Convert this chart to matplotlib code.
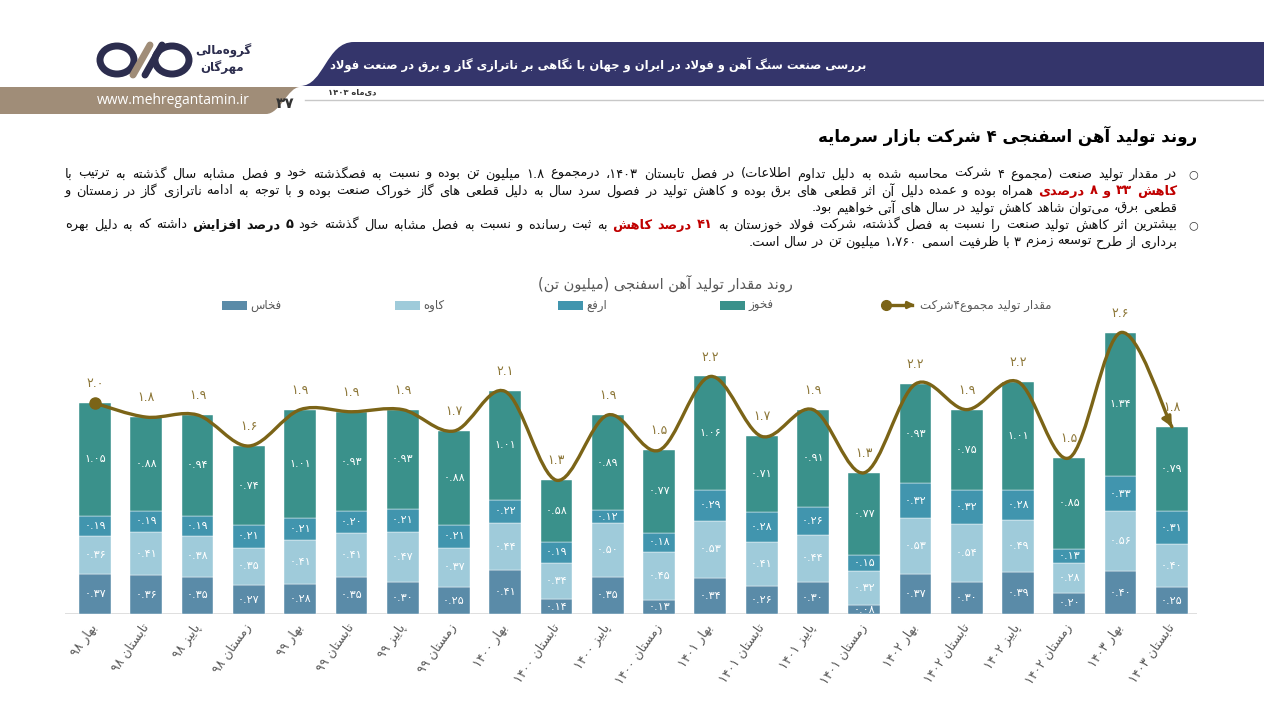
import re
import numpy as np
import matplotlib
matplotlib.use('Agg')
import matplotlib.pyplot as plt
from matplotlib.patches import PathPatch, Ellipse
from matplotlib.path import Path

plt.rcParams['font.family'] = ['DejaVu Sans']

# ---- data (million tonnes) ----
seasons = ['بهار ۹۸', 'تابستان ۹۸', 'پاییز ۹۸', 'زمستان ۹۸',
           'بهار ۹۹', 'تابستان ۹۹', 'پاییز ۹۹', 'زمستان ۹۹',
           'بهار ۱۴۰۰', 'تابستان ۱۴۰۰', 'پاییز ۱۴۰۰', 'زمستان ۱۴۰۰',
           'بهار ۱۴۰۱', 'تابستان ۱۴۰۱', 'پاییز ۱۴۰۱', 'زمستان ۱۴۰۱',
           'بهار ۱۴۰۲', 'تابستان ۱۴۰۲', 'پاییز ۱۴۰۲', 'زمستان ۱۴۰۲',
           'بهار ۱۴۰۳', 'تابستان ۱۴۰۳']
fakhas = [0.37, 0.36, 0.35, 0.27, 0.28, 0.35, 0.30, 0.25, 0.41, 0.14, 0.35,
          0.13, 0.34, 0.26, 0.30, 0.08, 0.37, 0.30, 0.39, 0.20, 0.40, 0.25]
kaveh = [0.36, 0.41, 0.38, 0.35, 0.41, 0.41, 0.47, 0.37, 0.44, 0.34, 0.50,
         0.45, 0.53, 0.41, 0.44, 0.32, 0.53, 0.54, 0.49, 0.28, 0.56, 0.40]
arfa = [0.19, 0.19, 0.19, 0.21, 0.21, 0.20, 0.21, 0.21, 0.22, 0.19, 0.12,
        0.18, 0.29, 0.28, 0.26, 0.15, 0.32, 0.32, 0.28, 0.13, 0.33, 0.31]
fakhouz = [1.05, 0.88, 0.94, 0.74, 1.01, 0.93, 0.93, 0.88, 1.01, 0.58, 0.89,
           0.77, 1.06, 0.71, 0.91, 0.77, 0.93, 0.75, 1.01, 0.85, 1.34, 0.79]
totals = [2.0, 1.8, 1.9, 1.6, 1.9, 1.9, 1.9, 1.7, 2.1, 1.3, 1.9,
          1.5, 2.2, 1.7, 1.9, 1.3, 2.2, 1.9, 2.2, 1.5, 2.6, 1.8]

# ---- minimal persian shaping + rtl ordering (matplotlib has no bidi) ----
_tbl = [('ء', 0xFE80, 1), ('آ', 0xFE81, 2), ('أ', 0xFE83, 2), ('ؤ', 0xFE85, 2),
        ('إ', 0xFE87, 2), ('ئ', 0xFE89, 4), ('ا', 0xFE8D, 2), ('ب', 0xFE8F, 4),
        ('ة', 0xFE93, 2), ('ت', 0xFE95, 4), ('ث', 0xFE99, 4), ('ج', 0xFE9D, 4),
        ('ح', 0xFEA1, 4), ('خ', 0xFEA5, 4), ('د', 0xFEA9, 2), ('ذ', 0xFEAB, 2),
        ('ر', 0xFEAD, 2), ('ز', 0xFEAF, 2), ('س', 0xFEB1, 4), ('ش', 0xFEB5, 4),
        ('ص', 0xFEB9, 4), ('ض', 0xFEBD, 4), ('ط', 0xFEC1, 4), ('ظ', 0xFEC5, 4),
        ('ع', 0xFEC9, 4), ('غ', 0xFECD, 4), ('ف', 0xFED1, 4), ('ق', 0xFED5, 4),
        ('ك', 0xFED9, 4), ('ل', 0xFEDD, 4), ('م', 0xFEE1, 4), ('ن', 0xFEE5, 4),
        ('ه', 0xFEE9, 4), ('و', 0xFEED, 2), ('ى', 0xFEEF, 2), ('ي', 0xFEF1, 4),
        ('پ', 0xFB56, 4), ('چ', 0xFB7A, 4), ('ژ', 0xFB8A, 2), ('ک', 0xFB8E, 4),
        ('گ', 0xFB92, 4), ('ی', 0xFBFC, 4)]
FORMS = {c: tuple(chr(s + k) for k in range(n)) for c, s, n in _tbl}
LAM_ALEF = {'ا': ('\uFEFB', '\uFEFC'), 'آ': ('\uFEF5', '\uFEF6'),
            'أ': ('\uFEF7', '\uFEF8'), 'إ': ('\uFEF9', '\uFEFA')}
MIRROR = {'(': ')', ')': '('}
LTR = re.compile(r'[0-9۰-۹A-Za-z]+(?:[.,،٫][0-9۰-۹]+)*')


def dual(c):
    return c in FORMS and len(FORMS[c]) == 4


def shape(s):
    out = []
    i = 0
    while i < len(s):
        c = s[i]
        if c not in FORMS:
            if c != '\u200c':
                out.append(c)
            i += 1
            continue
        jp = i > 0 and dual(s[i - 1])
        if c == 'ل' and i + 1 < len(s) and s[i + 1] in LAM_ALEF:
            iso, fin = LAM_ALEF[s[i + 1]]
            out.append(fin if jp else iso)
            i += 2
            continue
        f = FORMS[c]
        nxt = s[i + 1] if i + 1 < len(s) else ''
        jn = dual(c) and nxt in FORMS and len(FORMS[nxt]) > 1
        if len(f) == 1:
            out.append(f[0])
        elif jp and jn:
            out.append(f[3])
        elif jp:
            out.append(f[1])
        elif jn:
            out.append(f[2])
        else:
            out.append(f[0])
        i += 1
    return ''.join(out)


def fa(s):
    s = shape(s)
    toks = []
    pos = 0
    for m in LTR.finditer(s):
        toks.extend(MIRROR.get(ch, ch) for ch in s[pos:m.start()])
        toks.append(m.group())
        pos = m.end()
    toks.extend(MIRROR.get(ch, ch) for ch in s[pos:])
    return ''.join(reversed(toks))


FA_DIGITS = str.maketrans('0123456789', '۰۱۲۳۴۵۶۷۸۹')


def fnum(v, nd):
    return f'{v:.{nd}f}'.translate(FA_DIGITS)


# ---- figure ----
W, H = 1264, 706
fig = plt.figure(figsize=(W / 100, H / 100), dpi=100)
renderer = fig.canvas.get_renderer()

bg = fig.add_axes([0, 0, 1, 1], zorder=0)
bg.set_xlim(0, W)
bg.set_ylim(H, 0)
bg.axis('off')

navy = '#34356B'
tan = '#A08D78'


def fit_width(t, target):
    w = t.get_window_extent(renderer).width
    t.set_fontsize(t.get_fontsize() * target / w)


# header band
banner = Path([(300, 86), (324, 86), (326, 42), (354, 42), (W, 42), (W, 86), (300, 86)],
              [Path.MOVETO, Path.CURVE4, Path.CURVE4, Path.CURVE4, Path.LINETO, Path.LINETO, Path.CLOSEPOLY])
bg.add_patch(PathPatch(banner, fc=navy, ec='none'))
tanbar = Path([(0, 87), (300, 87), (288, 87), (280, 114), (266, 114), (0, 114), (0, 87)],
              [Path.MOVETO, Path.LINETO, Path.CURVE4, Path.CURVE4, Path.CURVE4, Path.LINETO, Path.CLOSEPOLY])
bg.add_patch(PathPatch(tanbar, fc=tan, ec='none'))
bg.plot([305, W], [100, 100], color='#C8C8C8', lw=1)

head = bg.text(866, 65, fa('بررسی صنعت سنگ آهن و فولاد در ایران و جهان با نگاهی بر ناترازی گاز و برق در صنعت فولاد'),
               ha='right', va='center', color='white', fontsize=11, fontweight='bold')
fit_width(head, 534)
bg.text(97, 101, 'www.mehregantamin.ir', ha='left', va='center', color='white',
        fontsize=10, family='Open Sans')
bg.text(285, 103, fa('۳۷'), ha='center', va='center', color='#333333', fontsize=11, fontweight='bold')
bg.text(328, 92, fa('دی\u200cماه ۱۴۰۳'), ha='left', va='center', color='#333333', fontsize=6, fontweight='bold')

# logo
logo_navy = '#2C2D4E'
bg.add_patch(Ellipse((117, 60), 34, 28, fc='none', ec=logo_navy, lw=5))
bg.add_patch(Ellipse((172, 60), 34, 28, fc='none', ec=logo_navy, lw=5))
bg.plot([133, 150], [75, 45], color=tan, lw=5, solid_capstyle='round')
bg.plot([145, 162], [75, 45], color=logo_navy, lw=5, solid_capstyle='round')
bg.text(252, 51, fa('گروه\u200cمالی'), ha='right', va='center', color=logo_navy, fontsize=8.5, fontweight='bold')
bg.text(244, 67, fa('مهرگان'), ha='right', va='center', color=logo_navy, fontsize=8.5, fontweight='bold')

# section title
bg.text(1197, 136, fa('روند تولید آهن اسفنجی ۴ شرکت بازار سرمایه'), ha='right', va='center',
        fontsize=12, fontweight='bold', color='black')

# paragraph
red = '#C00000'
blk = '#111111'
para = [
    (174, True, [('در مقدار تولید صنعت (مجموع ۴ شرکت محاسبه شده به دلیل تداوم اطلاعات) در فصل تابستان ۱۴۰۳، درمجموع ۱.۸ میلیون تن بوده و نسبت به فصگذشته خود و فصل مشابه سال گذشته به ترتیب با', False, blk)]),
    (191, True, [('کاهش ۳۳ و ۸ درصدی', True, red),
                 ('همراه بوده و عمده دلیل آن اثر قطعی های برق بوده و کاهش تولید در فصول سرد سال به دلیل قطعی های گاز خوراک صنعت بوده و با توجه به ادامه ناترازی گاز در زمستان و', False, blk)]),
    (208, False, [('قطعی برق، می\u200cتوان شاهد کاهش تولید در سال های آتی خواهیم بود.', False, blk)]),
    (225, True, [('بیشترین اثر کاهش تولید صنعت را نسبت به فصل گذشته، شرکت فولاد خوزستان به', False, blk),
                 ('۴۱ درصد کاهش', True, red),
                 ('به ثبت رسانده و نسبت به فصل مشابه سال گذشته خود', False, blk),
                 ('۵ درصد افزایش', True, blk),
                 ('داشته که به دلیل بهره', False, blk)]),
    (242, False, [('برداری از طرح توسعه زمزم ۳ با ظرفیت اسمی ۱،۷۶۰ میلیون تن در سال است.', False, blk)]),
]
psize = 9.4
x_right, x_left = 1177, 65
for y, justify, segs in para:
    items = []
    for text, bold, color in segs:
        for w in text.split():
            items.append(bg.text(0, y, fa(w), ha='left', va='center', fontsize=psize,
                                 fontweight='bold' if bold else 'normal', color=color))
    widths = [t.get_window_extent(renderer).width for t in items]
    gap = (x_right - x_left - sum(widths)) / (len(items) - 1) if justify else 4
    gap = max(gap, 2.5)
    x = x_right
    for t, w in zip(items, widths):
        t.set_x(x - w)
        x -= w + gap
for y in (174, 225):
    bg.text(1193, y, '○', ha='center', va='center', fontsize=8, color='#333333')

# ---- chart ----
px_unit = 107
ymax = 2.8
ax = fig.add_axes([65 / W, (H - 614) / H, 1132 / W, ymax * px_unit / H], zorder=2)
ax.patch.set_alpha(0)
x = np.arange(len(seasons))

series = [('فخاس', fakhas, '#5A8BA8'), ('کاوه', kaveh, '#9FCBDA'),
          ('ارفع', arfa, '#4195AE'), ('فخوز', fakhouz, '#3A918B')]
bottom = np.zeros(len(x))
for name, vals, color in series:
    vals = np.array(vals)
    ax.bar(x, vals, 0.62, bottom=bottom, color=color, edgecolor='white', linewidth=0.3, zorder=2)
    for xi, b, v in zip(x, bottom, vals):
        ax.text(xi, b + v / 2, fnum(v, 2), ha='center', va='center', color='white', fontsize=8, zorder=3)
    bottom += vals
tops = bottom.copy()

# smooth total line (bezier through the bar tops)
line_c = '#7B6417'
P = np.column_stack([x, tops])
Pe = np.vstack([P[0], P, P[-1]])
verts = [tuple(P[0])]
codes = [Path.MOVETO]
for i in range(len(P) - 1):
    c1 = Pe[i + 1] + (Pe[i + 2] - Pe[i]) / 6
    c2 = Pe[i + 2] - (Pe[i + 3] - Pe[i + 1]) / 6
    verts += [tuple(c1), tuple(c2), tuple(P[i + 1])]
    codes += [Path.CURVE4] * 3
ax.add_patch(PathPatch(Path(verts, codes), fc='none', ec=line_c, lw=2.4, zorder=4, capstyle='round'))
ax.plot(x[0], tops[0], 'o', ms=8, color=line_c, zorder=5)
tail = np.array(verts[-2])
tip = P[-1]
ax.annotate('', xy=tuple(tip), xytext=tuple(tip - 0.25 * (tip - tail)),
            arrowprops=dict(arrowstyle='-|>', color=line_c, lw=2.4, mutation_scale=14,
                            shrinkA=0, shrinkB=0), zorder=5)
for xi, t, lab in zip(x, tops, totals):
    ax.annotate(fnum(lab, 1), xy=(xi, t), xytext=(0, 14), textcoords='offset points',
                ha='center', va='center', color='#8C7637', fontsize=9, zorder=5)

ax.set_xlim(-0.585, 21.49)
ax.set_ylim(0, ymax)
ax.axhline(0, color='#D9D9D9', lw=1.2, zorder=1)
for s in ax.spines.values():
    s.set_visible(False)
ax.set_yticks([])
ax.set_xticks(x)
ax.set_xticklabels([fa(s) for s in seasons], rotation=55, ha='right', va='center',
                   rotation_mode='anchor', fontsize=9, color='#595959')
ax.tick_params(axis='x', length=0, pad=8)

# chart title and legend
bg.text(665, 283, fa('روند مقدار تولید آهن اسفنجی (میلیون تن)'), ha='center', va='center',
        fontsize=10.5, color='#595959')
for (name, vals, color), sx in zip(series, [222, 395, 558, 720]):
    bg.add_patch(plt.Rectangle((sx, 300.5), 25, 9, fc=color, ec='none'))
    bg.text(sx + 28, 305, fa(name), ha='left', va='center', fontsize=8.5, color='#595959')
bg.plot([886, 912], [305, 305], color=line_c, lw=2.4)
bg.plot(886, 305, 'o', ms=7, color=line_c)
bg.annotate('', xy=(915, 305), xytext=(905, 305),
            arrowprops=dict(arrowstyle='-|>', color=line_c, lw=2, mutation_scale=10, shrinkA=0, shrinkB=0))
bg.text(920, 305, fa('مقدار تولید مجموع۴شرکت'), ha='left', va='center', fontsize=8.5, color='#595959')

fig.savefig('out.png', dpi=100)
